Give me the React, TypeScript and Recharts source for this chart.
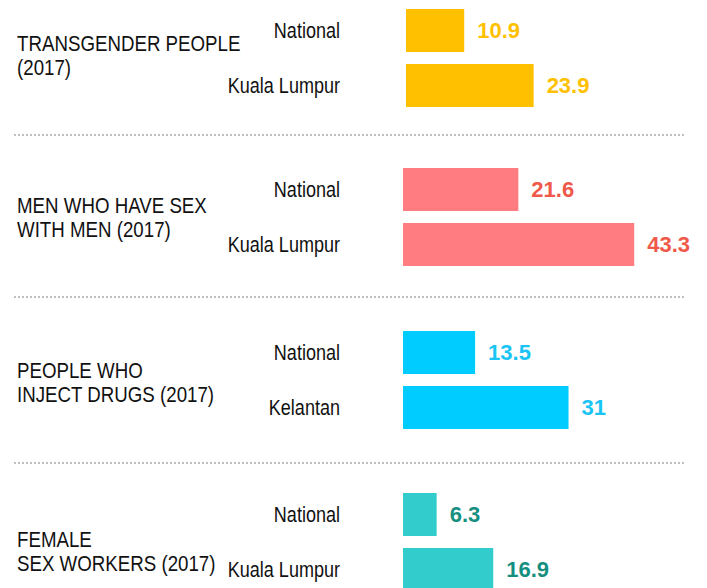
import React from 'react';
import { BarChart, Bar, XAxis, YAxis, LabelList } from 'recharts';

// one entry per group, top to bottom
const groupTitles = [
  ['TRANSGENDER PEOPLE', '(2017)'],
  ['MEN WHO HAVE SEX', 'WITH MEN (2017)'],
  ['PEOPLE WHO', 'INJECT DRUGS (2017)'],
  ['FEMALE', 'SEX WORKERS (2017)'],
];
const places = [
  ['National', 'Kuala Lumpur'],
  ['National', 'Kuala Lumpur'],
  ['National', 'Kelantan'],
  ['National', 'Kuala Lumpur'],
];
const values = [
  [10.9, 23.9],
  [21.6, 43.3],
  [13.5, 31],
  [6.3, 16.9],
];
const barColors = ['#FFC000', '#FF7C80', '#00CCFF', '#33CCCC'];
const labelColors = ['#FFC000', '#F0584A', '#1AC4F4', '#148F80'];

// layout
const W = 707;
const H = 588;
const PLOT_W = 267; // 0..50 on the x scale
const bandTops = [3, 162, 325, 487];
const plotLefts = [406, 403, 403, 403];
const titleCapTops = [36, 198, 363, 532];
const dividers = [135, 297, 463];
const TICK_RIGHT = 340;
// the source uses a narrow face, none is installed, so squeeze a normal one
const TICK_SQUEEZE = 0.82;
const TITLE_SQUEEZE = 0.85;

const sans = "'Liberation Sans', Arial, sans-serif";

function PlaceTick(props: any) {
  const { x, y, payload } = props;
  return (
    <g transform={`translate(${x},${y}) scale(${TICK_SQUEEZE},1)`}>
      <text x={0} y={0} dy="0.36em" textAnchor="end" fill="#111" fontSize={22} fontFamily={sans}>
        {payload.value}
      </text>
    </g>
  );
}

function Group({ g }: { g: number }) {
  const data = places[g].map((p, i) => ({ place: p, value: values[g][i] }));
  const left = plotLefts[g];
  return (
    <div style={{ position: 'absolute', left: 0, top: bandTops[g], width: W, height: 110 }}>
      <BarChart
        width={W}
        height={110}
        data={data}
        layout="vertical"
        margin={{ top: 0, right: W - left - PLOT_W, bottom: 0, left: 0 }}
      >
        <XAxis type="number" domain={[0, 50]} hide />
        <YAxis
          type="category"
          dataKey="place"
          width={left}
          axisLine={false}
          tickLine={false}
          tickSize={0}
          tickMargin={left - TICK_RIGHT}
          tick={<PlaceTick />}
        />
        <Bar dataKey="value" fill={barColors[g]} barSize={43} isAnimationActive={false}>
          <LabelList
            dataKey="value"
            position="right"
            offset={13}
            fill={labelColors[g]}
            fontSize={22}
            fontWeight="bold"
            fontFamily={sans}
          />
        </Bar>
      </BarChart>
      <div
        style={{
          position: 'absolute',
          left: 17,
          top: titleCapTops[g] - bandTops[g] - 4,
          fontFamily: sans,
          fontSize: 22,
          lineHeight: '24px',
          color: '#111',
          whiteSpace: 'nowrap',
          transform: `scaleX(${TITLE_SQUEEZE})`,
          transformOrigin: 'left top',
        }}
      >
        {groupTitles[g].map((line) => (
          <div key={line}>{line}</div>
        ))}
      </div>
    </div>
  );
}

export default function App() {
  return (
    <div style={{ position: 'absolute', left: 0, top: 0, width: W, height: H, overflow: 'hidden', background: '#fff' }}>
      <svg width={W} height={H} style={{ position: 'absolute', left: 0, top: 0 }}>
        {dividers.map((y) => (
          <line key={y} x1={14} x2={686} y1={y} y2={y} stroke="#BFBFBF" strokeWidth={2} strokeDasharray="2 2" />
        ))}
      </svg>
      {values.map((_, g) => (
        <Group key={g} g={g} />
      ))}
    </div>
  );
}
